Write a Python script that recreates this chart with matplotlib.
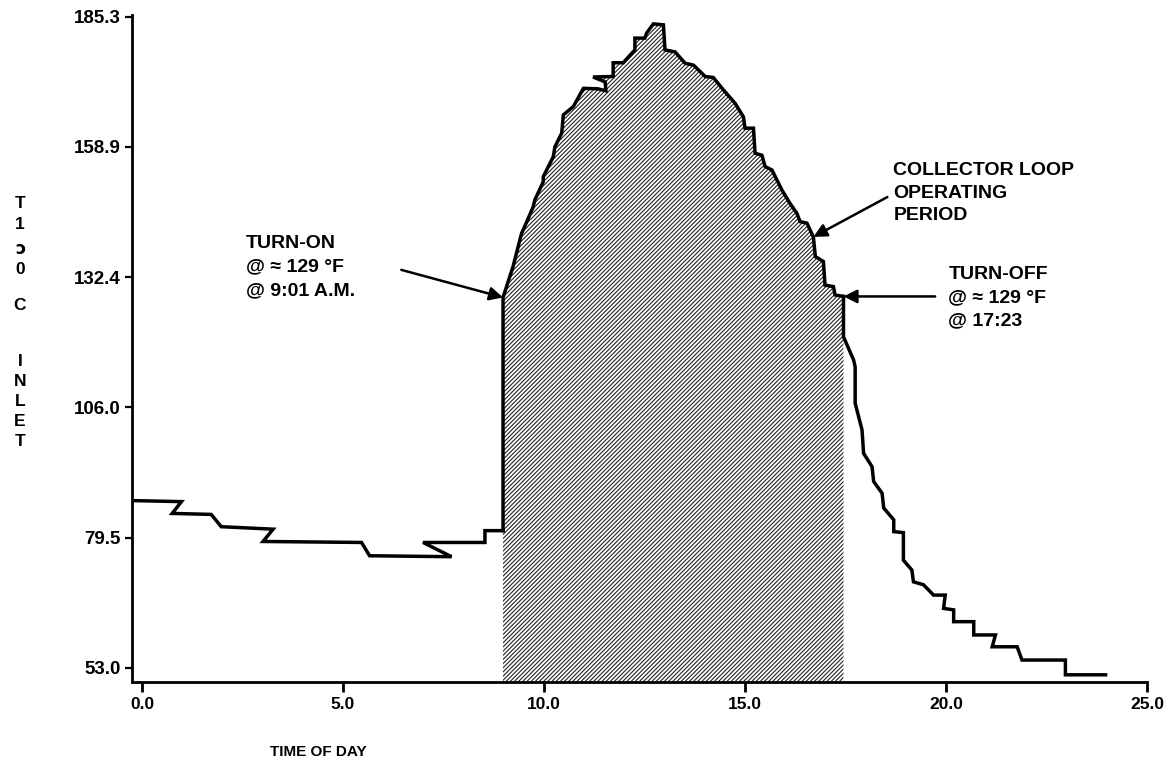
import matplotlib
matplotlib.use("Agg")
import matplotlib.pyplot as plt

# collector inlet temperature (hours, deg F)
pre_x = [-0.19, 0.98, 0.75, 1.72, 1.97, 3.26, 3.01, 5.46, 5.66, 7.70, 6.99, 8.53, 8.53, 8.98]
pre_y = [87.0, 86.8, 84.4, 84.2, 81.7, 81.2, 78.7, 78.5, 75.8, 75.6, 78.5, 78.5, 80.9, 80.9]

on_x = [8.98, 8.98, 9.23, 9.44, 9.48, 9.73, 9.77, 9.98, 9.98, 10.23, 10.27, 10.44, 10.48,
        10.73, 10.98, 11.34, 11.54, 11.52, 11.22, 11.72, 11.72, 11.97, 12.26, 12.26, 12.51,
        12.55, 12.72, 12.97, 13.01, 13.26, 13.51, 13.72, 14.01, 14.21, 14.46, 14.75, 14.96,
        15.00, 15.21, 15.25, 15.42, 15.50, 15.67, 15.92, 16.12, 16.29, 16.37, 16.54, 16.70,
        16.75, 16.95, 16.99, 17.20, 17.24, 17.45]
on_y = [80.9, 128.3, 134.6, 141.3, 142.0, 146.7, 148.1, 151.8, 152.8, 156.9, 158.9, 161.7, 165.4,
        167.1, 170.8, 170.7, 170.3, 172.1, 173.1, 173.2, 176.0, 176.0, 178.6, 181.0, 181.0,
        182.0, 183.9, 183.7, 178.6, 178.2, 175.9, 175.5, 173.2, 173.0, 170.5, 167.8, 165.0,
        162.7, 162.7, 157.6, 157.2, 154.9, 154.2, 150.1, 147.4, 145.4, 143.7, 143.4, 140.6,
        136.6, 135.6, 130.8, 130.5, 128.8, 128.5]

post_x = [17.45, 17.45, 17.70, 17.74, 17.74, 17.91, 17.95, 18.16, 18.20, 18.41, 18.45, 18.70,
          18.70, 18.94, 18.94, 19.15, 19.19, 19.44, 19.69, 19.98, 19.94, 20.19, 20.19, 20.69,
          20.69, 21.23, 21.15, 21.77, 21.89, 22.97, 22.97, 23.97]
post_y = [128.5, 120.3, 115.6, 114.2, 106.8, 101.4, 96.6, 93.9, 90.9, 88.5, 85.5, 83.1,
          80.7, 80.5, 74.9, 72.9, 70.5, 69.9, 67.8, 67.8, 65.1, 64.8, 62.4, 62.4,
          59.7, 59.7, 57.3, 57.3, 54.6, 54.6, 51.6, 51.6]

x_ticks = [0.0, 5.0, 10.0, 15.0, 20.0, 25.0]
y_ticks = [53.0, 79.5, 106.0, 132.4, 158.9, 185.3]
y_label_chars = ["T", "1", "\u0254", "0", "C", "I", "N", "L", "E", "T"]

turn_on = (8.98, 128.3)
turn_off = (17.45, 128.5)
loop_point = (16.70, 140.6)

plt.rcParams["font.family"] = ["Liberation Sans", "DejaVu Sans"]
plt.rcParams["font.weight"] = "bold"
plt.rcParams["hatch.linewidth"] = 0.8

W, H = 1172, 762
fig = plt.figure(figsize=(W / 100, H / 100), dpi=100)
ax = fig.add_axes([132 / W, 1 - 681.7 / H, (1147 - 132) / W, (681.7 - 15) / H])

ybot = 50.2
ax.set_xlim(-0.25, 25.0)
ax.set_ylim(ybot, 185.7)

# shaded operating period
poly_x = on_x + [on_x[-1], on_x[0]]
poly_y = on_y + [ybot, ybot]
ax.fill(poly_x, poly_y, facecolor="white", edgecolor="#222222", hatch="////////", linewidth=0, zorder=1)

lw = 2.5
ax.plot(pre_x, pre_y, color="black", lw=lw, solid_joinstyle="miter", zorder=3)
ax.plot(on_x, on_y, color="black", lw=lw, solid_joinstyle="miter", zorder=3)
ax.plot(post_x, post_y, color="black", lw=lw, solid_joinstyle="miter", zorder=3)

for s in ["top", "right"]:
    ax.spines[s].set_visible(False)
for s in ["left", "bottom"]:
    ax.spines[s].set_linewidth(2.0)

ax.set_xticks(x_ticks)
ax.set_xticklabels([f"{v:.1f}" for v in x_ticks], fontsize=12.5, fontweight="bold",
                   family=["Liberation Sans Narrow", "Liberation Sans"])
ax.set_yticks(y_ticks)
ax.set_yticklabels([f"{v:.1f}" for v in y_ticks], fontsize=13.5, fontweight="bold")
ax.tick_params(axis="x", direction="out", length=7, width=2, pad=4)
ax.tick_params(axis="y", direction="out", length=5, width=1.6, pad=3)

ax.set_xlabel("TIME OF DAY", fontsize=11, fontweight="bold")
ax.xaxis.set_label_coords((318 - 132) / (1147 - 132), -0.095)

# stacked vertical y label
char_y = [203, 225, 249, 270, 305, 361, 381, 401, 421, 441]
for ch, py in zip(y_label_chars, char_y):
    fig.text(20 / W, 1 - py / H, ch, fontsize=12.5, fontweight="bold", ha="center", va="center",
             family=["DejaVu Sans"] if ch == "\u0254" else ["Liberation Sans", "DejaVu Sans"])

arrow = dict(arrowstyle="-|>", color="black", lw=1.8, mutation_scale=20, shrinkA=0, shrinkB=0)
fs = 14
ax.text(2.58, 134.5, "TURN-ON\n@ \u2248 129 \u00b0F\n@ 9:01 A.M.", fontsize=fs, fontweight="bold",
        ha="left", va="center", linespacing=1.5)
ax.annotate("", xy=turn_on, xytext=(6.45, 133.9), arrowprops=arrow)

ax.text(18.69, 149.5, "COLLECTOR LOOP\nOPERATING\nPERIOD", fontsize=fs, fontweight="bold",
        ha="left", va="center", linespacing=1.42)
ax.annotate("", xy=loop_point, xytext=(18.54, 148.7), arrowprops=arrow)

ax.text(20.06, 128.2, "TURN-OFF\n@ \u2248 129 \u00b0F\n@ 17:23", fontsize=fs, fontweight="bold",
        ha="left", va="center", linespacing=1.47)
ax.annotate("", xy=turn_off, xytext=(19.73, 128.5), arrowprops=arrow)

fig.savefig("out.png", dpi=100)
